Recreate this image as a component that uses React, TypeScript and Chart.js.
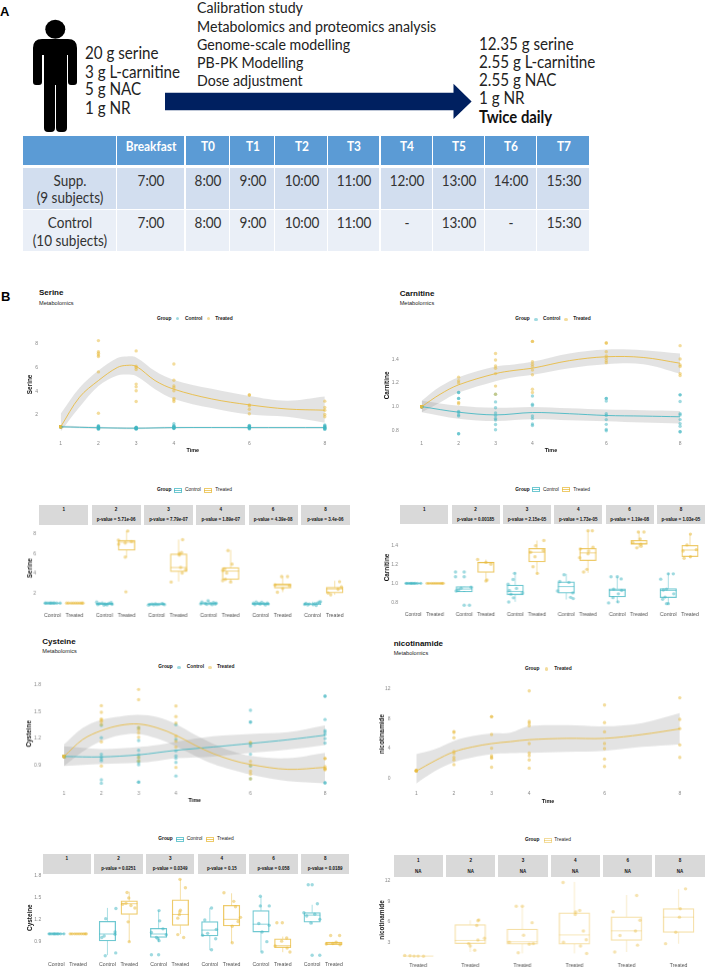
import React, { useEffect, useRef } from "react";
import { Chart, registerables } from "chart.js";

Chart.register(...registerables);

// ---------- Panel A content ----------
const startDose = ["20 g serine", "3 g L-carnitine", "5 g NAC", "1 g NR"];
const steps = ["Calibration study", "Metabolomics and proteomics analysis", "Genome-scale modelling", "PB-PK Modelling", "Dose adjustment"];
const finalDose = ["12.35 g serine", "2.55 g L-carnitine", "2.55 g NAC", "1 g NR"];
const tableHead = ["", "Breakfast", "T0", "T1", "T2", "T3", "T4", "T5", "T6", "T7"];
const suppRow = ["Supp.\n(9 subjects)", "7:00", "8:00", "9:00", "10:00", "11:00", "12:00", "13:00", "14:00", "15:30"];
const controlRow = ["Control\n(10 subjects)", "7:00", "8:00", "9:00", "10:00", "11:00", "-", "13:00", "-", "15:30"];

// ---------- Time points / tick labels ----------
const timeTicks = [1, 2, 3, 4, 6, 8];
const serineTicks = [2, 4, 6, 8];
const carnitineTicks = [0.8, 1.0, 1.2, 1.4];
const cysteineTicks = [0.9, 1.2, 1.5, 1.8];
const nicotSmoothTicks = [0, 4, 8, 12];
const nicotBoxTicks = [3, 6, 9, 12];
const serineP = ["", "p-value = 5.71e-06", "p-value = 7.79e-07", "p-value = 1.89e-07", "p-value = 4.39e-08", "p-value = 3.4e-06"];
const carnitineP = ["", "p-value = 0.00185", "p-value = 2.15e-05", "p-value = 1.73e-05", "p-value = 1.19e-08", "p-value = 1.03e-05"];
const cysteineP = ["", "p-value = 0.0251", "p-value = 0.0349", "p-value = 0.15", "p-value = 0.058", "p-value = 0.0189"];
const nicotP = ["NA", "NA", "NA", "NA", "NA", "NA"];

// ---------- Observed values per time point ----------
const ones10 = [1, 1, 1, 1, 1, 1, 1, 1, 1, 1];
const ones9 = [1, 1, 1, 1, 1, 1, 1, 1, 1];
const flatControlJit = [-0.33, -0.28, -0.2, -0.12, -0.08, -0.02, 0.05, 0.1, 0.2, 0.35];
const flatTreatedJit = [-0.36, -0.27, -0.15, -0.05, 0.05, 0.15, 0.25, 0.33, 0.38];

const serineTreated = [
  ones9,
  [8.27, 7.34, 7.2, 7.06, 6.93, 5.63, 2.14],
  [7.4, 6.1, 6.0, 5.83, 4.6, 4.37, 4.04, 3.13],
  [6.3, 4.92, 4.45, 4.3, 4.04, 3.4, 3.27, 3.13],
  [3.68, 3.68, 2.85, 2.75, 2.47, 2.1],
  [3.16, 2.63, 2.4, 2.03, 1.84],
];
const serineTreatedJit = [
  flatTreatedJit,
  [0.05, -0.37, 0.22, -0.06, -0.36, -0.06, -0.03],
  [0.18, 0.13, 0.03, 0.03, 0.09, 0.32, 0.16, -0.34],
  [-0.12, 0.06, -0.27, -0.36, -0.18, -0.24, -0.36, 0],
  [-0.05, 0.22, -0.35, 0.3, 0, -0.24],
  [0.22, 0.3, 0.15, -0.3, -0.18],
];
const serineControl = [
  ones10,
  [1.1, 1.05, 1.0, 0.98, 0.95, 0.9, 0.88, 0.85, 0.82, 0.8],
  [0.96, 0.94, 0.92, 0.9, 0.88, 0.87, 0.86, 0.85, 0.82, 0.8],
  [1.25, 1.1, 1.05, 1.0, 0.98, 0.95, 0.92, 0.9, 0.88, 0.85],
  [1.12, 1.08, 1.02, 1.0, 0.98, 0.95, 0.92, 0.9, 0.86, 0.82],
  [1.15, 1.1, 1.02, 0.98, 0.95, 0.92, 0.88, 0.85, 0.82, 0.78],
];
const serineControlJit = [
  flatControlJit,
  [-0.35, 0.3, -0.1, 0.2, -0.22, 0.05, 0.34, -0.3, 0.12, -0.02],
  [0.25, -0.05, 0.3, -0.2, 0.12, -0.3, 0.02, 0.36, -0.12, -0.36],
  [-0.02, -0.3, 0.22, 0.34, -0.15, 0.08, -0.35, 0.3, -0.08, 0.16],
  [-0.2, 0.05, 0.3, -0.32, -0.1, 0.15, 0.35, -0.02, -0.26, 0.22],
  [0.36, 0.3, 0.22, -0.3, 0.1, -0.15, -0.36, 0.02, -0.22, 0.16],
];

const carnitineTreated = [
  ones9,
  [1.25, 1.22, 1.2, 1.036, 1.025],
  [1.45, 1.395, 1.345, 1.326, 1.28, 1.174, 1.105],
  [1.553, 1.553, 1.38, 1.36, 1.34, 1.31, 1.27, 1.147, 1.12],
  [1.54, 1.54, 1.465, 1.43, 1.41, 1.39, 1.373],
  [1.517, 1.404, 1.354, 1.34, 1.28, 1.263],
];
const carnitineTreatedJit = [
  flatTreatedJit,
  [-0.38, 0, 0.23, 0.05, 0],
  [0.32, -0.06, 0.29, -0.29, -0.09, -0.18, 0.02],
  [0, 0.2, 0.23, -0.35, 0.03, 0, -0.38, -0.05, -0.2],
  [-0.03, 0.23, 0.05, -0.29, 0.08, 0.1, -0.1],
  [0.02, -0.14, 0.29, -0.32, 0.02, -0.27],
];
const carnitineControl = [
  ones10,
  [1.12, 1.12, 1.07, 1.07, 0.96, 0.95, 0.93, 0.92, 0.77, 0.77],
  [1.105, 1.04, 0.99, 0.947, 0.925, 0.9, 0.887, 0.848, 0.804],
  [1.09, 1.02, 1.01, 0.92, 0.9, 0.853, 0.84],
  [1.07, 1.07, 1.047, 0.94, 0.925, 0.89, 0.85, 0.806, 0.795],
  [1.1, 1.1, 1.044, 0.94, 0.93, 0.89, 0.856, 0.834, 0.787, 0.787],
];
const carnitineControlJit = [
  flatControlJit,
  [-0.4, 0, -0.4, 0, 0.32, -0.14, -0.26, -0.37, 0, 0.24],
  [-0.03, -0.1, -0.33, 0.06, -0.27, 0.33, -0.2, -0.08, -0.3],
  [-0.1, -0.3, 0.12, -0.4, 0.3, 0.2, 0.32],
  [-0.29, 0, 0.18, -0.17, 0.2, 0.05, -0.2, 0.03, -0.4],
  [0, 0.23, -0.35, -0.08, -0.23, 0.25, -0.15, -0.26, -0.08, 0],
];

const cysteineTreated = [
  ones9,
  [1.569, 1.495, 1.42, 1.407, 1.39, 1.356, 1.165, 0.893],
  [1.75, 1.635, 1.326, 1.3, 1.264, 1.216, 0.95, 0.99],
  [1.565, 1.447, 1.374, 1.227, 1.17, 1.105, 0.878],
  [1.153, 1.153, 0.944, 0.9, 0.834, 0.804, 0.75],
  [0.977, 0.977, 0.885, 0.867, 0.86, 0.85],
];
const cysteineTreatedJit = [
  flatTreatedJit,
  [-0.1, -0.02, -0.15, -0.3, 0.08, 0.26, -0.05, 0],
  [-0.02, 0.23, 0, -0.03, -0.05, -0.12, 0.15, -0.12],
  [-0.35, 0.1, 0.18, 0.41, 0.3, 0.03, 0.03],
  [-0.27, -0.02, 0.18, -0.05, -0.35, 0.2, 0.33],
  [0.26, -0.15, 0.1, -0.05, -0.35, 0.28],
];
const cysteineControl = [
  ones10,
  [1.348, 1.209, 1.025, 0.995, 0.97, 0.951, 0.738, 0.7],
  [1.32, 1.179, 1.069, 1.018, 0.988, 0.951, 0.933, 0.907, 0.713, 0.713],
  [1.356, 1.19, 1.062, 1.007, 0.98, 0.933, 0.782],
  [1.517, 1.385, 1.385, 1.142, 1.117, 1.025, 0.893, 0.75],
  [1.675, 1.675, 1.414, 1.29, 1.271, 1.245, 1.2, 1.15, 0.705, 0.705],
];
const cysteineControlJit = [
  flatControlJit,
  [0.39, -0.08, 0.35, 0.35, -0.15, -0.26, 0.38, -0.1],
  [0.02, 0.05, 0.2, -0.33, 0.35, -0.1, -0.03, 0.02, -0.33, 0],
  [0.08, -0.23, 0.3, -0.1, -0.33, 0.27, 0.08],
  [-0.03, -0.03, 0.38, -0.1, 0.38, 0.05, 0.27, 0.05],
  [-0.18, 0, 0.24, -0.38, 0.12, -0.25, 0.35, -0.06, 0, 0.35],
];

const nicotTreated = [
  [1.1, 1.05, 1.0, 1.0, 0.97],
  [6.3, 6.18, 5.47, 3.62, 3.35, 2.82, 2.47, 1.85],
  [8.3, 8.3, 5.9, 4.06, 3.04, 2.82, 2.73, 1.5],
  [11.78, 7.68, 7.45, 7.1, 4.68, 3.4, 3.04, 2.47, 1.37],
  [9.88, 7.5, 6.26, 4.68, 4.01, 2.6, 1.59],
  [10.85, 7.94, 6.7, 4.5, 2.82],
];
const nicotTreatedJit = [
  [-0.33, -0.2, -0.1, 0, 0.13],
  [0.21, 0.19, 0.16, 0.35, 0.19, -0.04, 0, 0.11],
  [-0.15, 0, 0.24, 0.03, -0.32, 0.27, 0.17, -0.1],
  [-0.28, 0.13, 0.03, 0.02, 0.22, 0.29, -0.27, 0.15, 0.3],
  [0.25, -0.33, 0.33, 0.22, -0.16, 0.27, -0.29],
  [0.17, 0.04, 0.02, -0.07, -0.32],
];

// ---------- Smooth fits (time, fit, upper, lower) ----------
const serineFitT = [1, 1.5, 2, 2.5, 2.75, 3, 3.5, 4, 5, 6, 7, 8];
const serineFit = [1.0, 3.5, 4.9, 6.0, 6.18, 6.1, 4.9, 4.17, 3.35, 2.85, 2.5, 2.4];
const serineFitHi = [2.1, 4.3, 5.75, 6.8, 6.93, 6.85, 5.7, 4.95, 4.2, 3.6, 3.2, 3.55];
const serineFitLo = [0.6, 2.66, 4.45, 5.33, 5.4, 5.28, 4.17, 3.35, 2.58, 2.03, 1.84, 1.34];
const serineCtlT = [1, 2, 3, 4, 6, 8];
const serineCtl = [1.0, 0.92, 0.88, 0.93, 0.93, 0.93];
const serineCtlHi = [1.1, 1.0, 0.96, 1.0, 1.0, 1.0];
const serineCtlLo = [0.9, 0.84, 0.8, 0.86, 0.86, 0.86];

const carnFitT = [1, 1.5, 2, 3, 3.5, 4, 5, 6, 7, 8];
const carnFit = [1.0, 1.105, 1.185, 1.28, 1.307, 1.326, 1.39, 1.423, 1.417, 1.368];
const carnFitHi = [1.05, 1.17, 1.25, 1.34, 1.357, 1.38, 1.45, 1.484, 1.478, 1.45];
const carnFitLo = [0.953, 1.036, 1.119, 1.216, 1.25, 1.27, 1.326, 1.36, 1.36, 1.28];
const carnCtlT = [1, 2, 3, 4, 5, 6, 7, 8];
const carnCtl = [1.0, 0.953, 0.93, 0.95, 0.94, 0.925, 0.92, 0.914];
const carnCtlHi = [1.05, 1.008, 0.99, 0.997, 0.986, 0.975, 0.97, 0.964];
const carnCtlLo = [0.953, 0.898, 0.878, 0.892, 0.884, 0.876, 0.865, 0.856];

const cysFitT = [1, 1.5, 2, 2.5, 3, 3.5, 4, 4.5, 5, 5.5, 6, 7, 8];
const cysFit = [1.0, 1.19, 1.29, 1.348, 1.363, 1.32, 1.238, 1.128, 1.032, 0.96, 0.91, 0.856, 0.878];
const cysFitHi = [1.135, 1.32, 1.41, 1.447, 1.466, 1.44, 1.363, 1.245, 1.142, 1.06, 1.007, 0.98, 1.04];
const cysFitLo = [0.893, 1.054, 1.172, 1.238, 1.253, 1.2, 1.113, 1.01, 0.915, 0.85, 0.797, 0.724, 0.7];
const cysCtlT = [1, 2, 3, 3.5, 4, 5, 6, 7, 8];
const cysCtl = [1.0, 0.995, 1.018, 1.043, 1.069, 1.106, 1.146, 1.187, 1.238];
const cysCtlHi = [1.113, 1.084, 1.106, 1.128, 1.165, 1.227, 1.253, 1.271, 1.348];
const cysCtlLo = [0.893, 0.915, 0.929, 0.951, 0.98, 0.999, 1.04, 1.076, 1.128];

const nicFitT = [1, 1.5, 2, 2.5, 3, 3.5, 4, 5, 6, 7, 8];
const nicFit = [0.97, 2.38, 3.57, 4.23, 4.68, 4.94, 5.2, 5.38, 5.38, 5.9, 6.66];
const nicFitHi = [3.26, 3.93, 5.03, 5.69, 6.04, 6.13, 7.01, 7.15, 7.01, 7.45, 8.78];
const nicFitLo = [-0.7, 0.97, 2.16, 2.82, 3.26, 3.4, 3.44, 3.57, 3.7, 4.23, 4.59];

// ---------- Box stats per facet: low whisker, q1, median, q3, high whisker ----------
const serineCtlBox = [[1, 1, 1, 1, 1], [0.8, 0.85, 0.92, 1.0, 1.1], [0.8, 0.85, 0.9, 0.95, 0.96], [0.85, 0.9, 0.95, 1.05, 1.25], [0.82, 0.85, 0.92, 1.0, 1.12], [0.78, 0.85, 0.9, 0.98, 1.15]];
const serineTrtBox = [[1, 1, 1, 1, 1], [5.6, 6.33, 7.15, 7.34, 8.26], [3.18, 4.16, 4.59, 5.97, 7.4], [3.15, 3.38, 4.23, 4.59, 6.36], [2.1, 2.52, 2.79, 2.92, 3.73], [1.84, 2.03, 2.43, 2.59, 3.25]];
const carnCtlBox = [[1, 1, 1, 1, 1], [0.92, 0.911, 0.94, 0.966, 0.97], [0.806, 0.88, 0.915, 0.983, 1.12], [0.83, 0.898, 0.966, 1.017, 1.1], [0.795, 0.857, 0.925, 0.942, 1.07], [0.78, 0.85, 0.925, 0.945, 1.11]];
const carnTrtBox = [[1, 1, 1, 1, 1], [1.034, 1.116, 1.22, 1.22, 1.25], [1.09, 1.225, 1.327, 1.368, 1.45], [1.11, 1.239, 1.32, 1.368, 1.555], [1.375, 1.409, 1.42, 1.453, 1.545], [1.266, 1.28, 1.35, 1.4, 1.52]];
const cysCtlBox = [[1, 1, 1, 1, 1], [0.707, 0.904, 0.998, 1.173, 1.357], [0.887, 0.95, 0.998, 1.075, 1.325], [0.775, 0.972, 1.052, 1.17, 1.357], [0.752, 1.025, 1.133, 1.32, 1.513], [1.13, 1.16, 1.258, 1.294, 1.4]];
const cysTrtBox = [[1, 1, 1, 1, 1], [0.887, 1.267, 1.415, 1.455, 1.58], [0.998, 1.115, 1.267, 1.469, 1.75], [0.873, 1.11, 1.2, 1.393, 1.558], [0.748, 0.81, 0.837, 0.931, 0.963], [0.85, 0.85, 0.873, 0.887, 0.887]];
const nicBox = [[1, 1, 1, 1, 1], [1.6, 2.81, 3.29, 5.62, 6.24], [1.4, 2.76, 3.1, 4.95, 8.3], [1.4, 2.76, 4.1, 7.33, 11.86], [1.6, 3.29, 4.7, 6.76, 9.95], [2.8, 4.48, 6.7, 7.95, 10.8]];

// ---------- Style ----------
const TEAL = "#3fb6c2";
const GOLD = "#e8b93a";
const TEAL_BOX = "rgba(63,182,194,0.75)";
const GOLD_BOX = "rgba(232,185,58,0.75)";
const TEAL_PT = "rgba(63,182,194,0.5)";
const GOLD_PT = "rgba(232,185,58,0.5)";
const RIBBON = "rgba(140,140,140,0.24)";
const BODY_FONT = "'Liberation Sans', Arial, sans-serif";
const SLIDE_FONT = "Lato, sans-serif";

type Anchor = [number, number, number, number];
const at = (a: Anchor, px: number) => a[0] + ((px - a[1]) * (a[2] - a[0])) / (a[3] - a[1]);

function baseScales(o: any) {
  const fixX = (s: any) => {
    s.height = o.axisBottom - o.b;
    s.paddingLeft = 0;
    s.paddingRight = 0;
  };
  const fixY = (s: any) => {
    s.width = o.l - o.canvasLeft;
    s.paddingTop = 0;
    s.paddingBottom = 0;
  };
  return {
    x: {
      type: "linear",
      offset: false,
      min: o.xMin,
      max: o.xMax,
      grid: { display: false, drawTicks: false },
      border: { display: false },
      afterBuildTicks: (s: any) => {
        s.ticks = o.xTicks.map((v: number) => ({ value: v }));
      },
      afterFit: fixX,
      ticks: {
        autoSkip: false,
        maxRotation: 0,
        padding: o.xTickPad,
        color: o.xTickColor,
        font: { size: o.xTickSize, family: BODY_FONT },
        callback: (_v: any, i: number) => o.xLabels[i],
      },
      title: o.xTitle
        ? { display: true, text: o.xTitle, padding: 0, color: "#111", font: { size: 5.4, weight: "bold", family: BODY_FONT } }
        : { display: false },
    },
    y: {
      type: "linear",
      min: at(o.yA, o.b),
      max: at(o.yA, o.t),
      grid: { display: false, drawTicks: false },
      border: { display: false },
      afterBuildTicks: (s: any) => {
        s.ticks = o.yTicks.map((v: number) => ({ value: v }));
      },
      afterFit: fixY,
      ticks: {
        autoSkip: false,
        padding: o.yTickPad,
        color: "#888",
        font: { size: 5, family: BODY_FONT },
        callback: (v: any) => (o.yFixed ? Number(v).toFixed(1) : String(v)),
      },
      title: { display: true, text: o.yTitle, padding: 0, color: "#111", font: { size: 6.4, weight: "bold", family: BODY_FONT } },
    },
  };
}

function pointsSmooth(values: number[][], color: string) {
  const data: any[] = [];
  values.forEach((vs, i) => vs.forEach((v) => data.push({ x: timeTicks[i], y: v })));
  return { type: "scatter", data, showLine: false, pointRadius: 1.7, pointBorderWidth: 0, pointBackgroundColor: color, clip: false, order: 3 };
}

function fitSets(t: number[], fit: number[], hi: number[], lo: number[], color: string) {
  const xy = (ys: number[]) => ys.map((y, i) => ({ x: t[i], y }));
  const common = { type: "line", pointRadius: 0, tension: 0.35 };
  return [
    { ...common, data: xy(hi), borderWidth: 0, borderColor: "transparent", backgroundColor: RIBBON, fill: "+1", order: 5 },
    { ...common, data: xy(lo), borderWidth: 0, borderColor: "transparent", fill: false, order: 5 },
    { ...common, data: xy(fit), borderColor: color, borderWidth: 0.85, fill: false, order: 1 },
  ];
}

function boxSets(boxes: number[][], values: number[][], jitter: number[][], pos: (i: number) => number, color: string, ptColor: string, px: number, halfUnit: number, medWidth: number) {
  const bars = boxes.map((b, i) => ({ x: pos(i), y: [b[1], b[3]] }));
  const whisk: any[] = [];
  const med: any[] = [];
  boxes.forEach((b, i) => {
    const c = pos(i);
    whisk.push({ x: c, y: b[0] }, { x: c, y: b[1] }, { x: c, y: NaN }, { x: c, y: b[3] }, { x: c, y: b[4] }, { x: c, y: NaN });
    med.push({ x: c - halfUnit, y: b[2] }, { x: c + halfUnit, y: b[2] }, { x: c + halfUnit, y: NaN });
  });
  const pts: any[] = [];
  values.forEach((vs, i) => vs.forEach((v, j) => pts.push({ x: pos(i) + (jitter[i][j] ?? 0), y: v })));
  return [
    { type: "bar", data: bars, grouped: false, barThickness: px, backgroundColor: "transparent", borderColor: color, borderWidth: 0.6, borderSkipped: false, order: 4 },
    { type: "line", data: whisk, borderColor: color, borderWidth: 0.6, pointRadius: 0, spanGaps: false, fill: false, order: 4 },
    { type: "line", data: med, borderColor: color, borderWidth: medWidth, pointRadius: 0, spanGaps: false, fill: false, order: 4 },
    { type: "scatter", data: pts, showLine: false, pointRadius: 1.7, pointBorderWidth: 0, pointBackgroundColor: ptColor, clip: false, order: 2 },
  ];
}

function ChartBox({ o, datasets }: { o: any; datasets: any[] }) {
  const ref = useRef<HTMLCanvasElement | null>(null);
  const width = o.r + 2 - o.canvasLeft;
  const height = o.axisBottom - (o.t - 2);
  useEffect(() => {
    const chart = new Chart(ref.current as HTMLCanvasElement, {
      type: "scatter",
      data: { datasets },
      options: {
        responsive: false,
        animation: false,
        devicePixelRatio: 1,
        layout: { padding: { top: 2, right: 2, left: 0, bottom: 0 } },
        plugins: { legend: { display: false }, tooltip: { enabled: false } },
        scales: baseScales(o),
      } as any,
    } as any);
    return () => chart.destroy();
  }, []);
  return (
    <canvas
      ref={ref}
      width={width}
      height={height}
      style={{ position: "absolute", left: o.canvasLeft, top: o.t - 2, width, height }}
    />
  );
}

function T({ x, y, children, size, bold, color, font, sx, center }: any) {
  return (
    <div
      style={{
        position: "absolute",
        left: x,
        top: y,
        whiteSpace: "nowrap",
        lineHeight: 1,
        fontSize: size,
        fontWeight: bold ? 700 : 400,
        color: color ?? "#111",
        fontFamily: font ?? BODY_FONT,
        transform: `translate(${center ? "-50%" : "0"},-50%)${sx ? ` scaleX(${sx})` : ""}`,
        transformOrigin: center ? "center" : "left center",
      }}
    >
      {children}
    </div>
  );
}

function Dot({ x, y, c }: any) {
  return <div style={{ position: "absolute", left: x - 1.6, top: y - 1.6, width: 3.2, height: 3.2, borderRadius: "50%", background: c }} />;
}

function BoxKey({ x, y, c, w }: any) {
  return (
    <>
      <div style={{ position: "absolute", left: x, top: y - 2.5, width: w, height: 5, boxSizing: "border-box", border: `0.7px solid ${c}` }} />
      <div style={{ position: "absolute", left: x, top: y - 0.3, width: w, height: 0.7, background: c }} />
    </>
  );
}

function Strips({ l, w, step, top, h, labels, y1, y2 }: any) {
  const heads = timeTicks;
  return (
    <>
      {heads.map((t: number, i: number) => (
        <React.Fragment key={t}>
          <div style={{ position: "absolute", left: l + i * step, top, width: w, height: h, background: "#d9d9d9" }} />
          <T x={l + i * step + w / 2} y={y1} size={4.6} bold center>{t}</T>
          {labels[i] ? <T x={l + i * step + w / 2} y={y2} size={4.5} bold center>{labels[i]}</T> : null}
        </React.Fragment>
      ))}
    </>
  );
}

function Heading({ x, y1, y2, name }: any) {
  return (
    <>
      <T x={x} y={y1} size={8} bold>{name}</T>
      <T x={x} y={y2} size={5.6} color="#222">Metabolomics</T>
    </>
  );
}

function smoothOpts(o: any) {
  const xA: Anchor = [1, o.x1, 8, o.x8];
  return {
    ...o,
    xMin: at(xA, o.l),
    xMax: at(xA, o.r),
    xTicks: timeTicks,
    xLabels: timeTicks.map(String),
    xTitle: "Time",
    xTickColor: "#888",
    xTickSize: 5,
    xTickPad: o.labelY - o.b - 2.5,
    axisBottom: o.timeY + 3.2,
    canvasLeft: o.titleX - 3.8,
  };
}

const GAP2 = 0.15;
const facetPos2 = (k: number) => (i: number) => i * (2.2 + GAP2) + 0.6 + k;
const MAX2 = 6 * 2.2 + 5 * GAP2;

function boxOpts2(o: any) {
  const ticks: number[] = [];
  const labels: string[] = [];
  timeTicks.forEach((_t, i) => {
    ticks.push(facetPos2(0)(i), facetPos2(1)(i));
    labels.push("Control", "Treated");
  });
  return {
    ...o,
    xMin: 0,
    xMax: MAX2,
    xTicks: ticks,
    xLabels: labels,
    xTickColor: "#555",
    xTickSize: 5.2,
    xTickPad: o.labelY - o.b - 2.6,
    axisBottom: o.labelY + 4,
    canvasLeft: o.titleX - 3.8,
  };
}

function TwoGroupBox({ o, ctlBox, trtBox, ctl, trt, ctlJ, trtJ }: any) {
  const opt = boxOpts2(o);
  const unitPx = (o.r - o.l) / MAX2;
  const ds = [
    ...boxSets(ctlBox, ctl, ctlJ, facetPos2(0), TEAL_BOX, TEAL_PT, 0.75 * unitPx, 0.375, 0.8),
    ...boxSets(trtBox, trt, trtJ, facetPos2(1), GOLD_BOX, GOLD_PT, 0.75 * unitPx, 0.375, 0.8),
  ];
  return <ChartBox o={opt} datasets={ds} />;
}

export default function App() {
  const colX = [22.7, 116.6, 185.5, 230.4, 275.3, 327.9, 380.5, 432.6, 485.3, 537.4, 589.6];
  const rowBands: [number, number, string, string[], number[]][] = [
    [168.3, 208.7, "#d2deef", suppRow, [180, 197.3]],
    [209.7, 251, "#eaeff7", controlRow, [222.3, 240]],
  ];
  // Nicotinamide single-group facets
  const NGAP = 0.08;
  const nicPos = (i: number) => i * (1.2 + NGAP) + 0.6;
  const nicMax = 6 * 1.2 + 5 * NGAP;
  const nicOpt = {
    l: 393.7, r: 704.7, t: 878, b: 960, yA: [12, 879, 3, 942] as Anchor,
    xMin: 0, xMax: nicMax, xTicks: timeTicks.map((_t, i) => nicPos(i)), xLabels: timeTicks.map(() => "Treated"),
    xTickColor: "#555", xTickSize: 5.2, xTickPad: 2.1, axisBottom: 969, canvasLeft: 378,
    yTicks: nicotBoxTicks, yTitle: "nicotinamide", yTickPad: 3.5,
  };
  const nicUnit = (nicOpt.r - nicOpt.l) / nicMax;

  return (
    <div style={{ position: "absolute", left: 0, top: 0, width: 709, height: 971, background: "#fff", overflow: "hidden", filter: "blur(0.35px)" }}>
      {/* Panel A */}
      <T x={0} y={11} size={13} bold color="#000">A</T>
      <svg width={120} height={140} style={{ position: "absolute", left: 0, top: 0 }}>
        <ellipse cx={55.3} cy={29.3} rx={10} ry={9.5} fill="#000" />
        <path fill="#000" d="M33 48 Q33 39 42 39 H68 Q77 39 77 48 V82 Q77 85 74 85 H71 Q68 85 68 82 V55 H67 V128 Q67 132 63 132 H60 Q56 132 56 128 V85 H55 V128 Q55 132 51 132 H48 Q44 132 44 128 V55 H42 V82 Q42 85 39 85 H36 Q33 85 33 82 Z" />
      </svg>
      {startDose.map((s, i) => (
        <T key={s} x={85} y={[53.3, 71.7, 89.3, 107.7][i]} size={16.5} font={SLIDE_FONT} color="#222" sx={0.92}>{s}</T>
      ))}
      {steps.map((s, i) => (
        <T key={s} x={197} y={[8.3, 26.7, 44.7, 62.7, 80.7][i]} size={15.5} font={SLIDE_FONT} color="#222" sx={0.915}>{s}</T>
      ))}
      <svg width={709} height={140} style={{ position: "absolute", left: 0, top: 0 }}>
        <polygon fill="#002060" points="165,92.7 453.5,92.7 453.5,83.7 471.6,101.5 453.5,119 453.5,110.3 165,110.3" />
      </svg>
      {finalDose.map((s, i) => (
        <T key={s} x={478.5} y={[44, 62, 80, 98.3][i]} size={16.5} font={SLIDE_FONT} color="#222" sx={0.92}>{s}</T>
      ))}
      <T x={478.5} y={116.7} size={16.5} bold font={SLIDE_FONT} color="#111" sx={0.9}>Twice daily</T>

      {tableHead.map((h, i) => (
        <React.Fragment key={i}>
          <div style={{ position: "absolute", left: colX[i], top: 136, width: colX[i + 1] - colX[i] - 1, height: 29, background: "#5b9bd5" }} />
          {h ? <T x={(colX[i] + colX[i + 1]) / 2} y={147.3} size={13.5} bold font={SLIDE_FONT} color="#fff" center sx={0.88}>{h}</T> : null}
        </React.Fragment>
      ))}
      {rowBands.map(([top, bottom, bg, cells, ys], r) =>
        cells.map((c, i) => (
          <React.Fragment key={`${r}-${i}`}>
            <div style={{ position: "absolute", left: colX[i], top, width: colX[i + 1] - colX[i] - 1, height: bottom - top, background: bg }} />
            {c.split("\n").map((line, k) => (
              <T key={k} x={(colX[i] + colX[i + 1]) / 2} y={ys[k]} size={15} font={SLIDE_FONT} color="#333" center sx={0.9}>{line}</T>
            ))}
          </React.Fragment>
        ))
      )}

      <T x={1} y={296} size={13} bold color="#000">B</T>

      {/* Serine */}
      <Heading x={39} y1={293} y2={303.7} name="Serine" />
      <T x={157} y={318.7} size={4.8} bold>Group</T>
      <Dot x={177.7} y={318.7} c={TEAL_PT} />
      <T x={185} y={318.7} size={4.9} bold color="#222">Control</T>
      <Dot x={208.7} y={318.7} c={GOLD_PT} />
      <T x={215.3} y={318.7} size={4.9} bold color="#222">Treated</T>
      <ChartBox
        o={smoothOpts({ l: 47.7, r: 340.3, t: 333, b: 434, x1: 61, x8: 327, yA: [8, 342, 2, 414.7], yTicks: serineTicks, yTitle: "Serine", yFixed: false, titleX: 30, yTickPad: 9.5, labelY: 443, timeY: 451 })}
        datasets={[
          pointsSmooth(serineTreated, GOLD_PT),
          pointsSmooth(serineControl, TEAL_PT),
          ...fitSets(serineFitT, serineFit, serineFitHi, serineFitLo, GOLD),
          ...fitSets(serineCtlT, serineCtl, serineCtlHi, serineCtlLo, TEAL),
        ]}
      />
      <T x={157} y={490} size={4.8} bold>Group</T>
      <BoxKey x={174.3} y={490} c={TEAL_BOX} w={7.4} />
      <T x={185} y={490} size={4.9} color="#222">Control</T>
      <BoxKey x={204} y={490} c={GOLD_BOX} w={8} />
      <T x={215.3} y={490} size={4.9} color="#222">Treated</T>
      <Strips l={39.3} w={49} step={52.33} top={505} h={19.7} labels={serineP} y1={510.3} y2={520} />
      <TwoGroupBox
        o={{ l: 39.3, r: 349.7, t: 527, b: 607, yA: [8, 531.7, 2, 592.7], yTicks: serineTicks, yTitle: "Serine", titleX: 30, yTickPad: 3, labelY: 614.7 }}
        ctlBox={serineCtlBox} trtBox={serineTrtBox} ctl={serineControl} trt={serineTreated} ctlJ={serineControlJit} trtJ={serineTreatedJit}
      />

      {/* Carnitine */}
      <Heading x={399.7} y1={294} y2={304} name="Carnitine" />
      <T x={515.3} y={319.3} size={4.8} bold>Group</T>
      <Dot x={536} y={319.3} c={TEAL_PT} />
      <T x={543} y={319.3} size={4.9} bold color="#222">Control</T>
      <Dot x={566} y={319.3} c={GOLD_PT} />
      <T x={573.3} y={319.3} size={4.9} bold color="#222">Treated</T>
      <ChartBox
        o={smoothOpts({ l: 409, r: 695.3, t: 333, b: 436, x1: 422, x8: 682.3, yA: [1.4, 358, 0.8, 430.3], yTicks: carnitineTicks, yTitle: "Carnitine", yFixed: true, titleX: 387, yTickPad: 10, labelY: 443, timeY: 451 })}
        datasets={[
          pointsSmooth(carnitineTreated, GOLD_PT),
          pointsSmooth(carnitineControl, TEAL_PT),
          ...fitSets(carnFitT, carnFit, carnFitHi, carnFitLo, GOLD),
          ...fitSets(carnCtlT, carnCtl, carnCtlHi, carnCtlLo, TEAL),
        ]}
      />
      <T x={515.3} y={489.7} size={4.8} bold>Group</T>
      <BoxKey x={532} y={489.7} c={TEAL_BOX} w={8} />
      <T x={543} y={489.7} size={4.9} color="#222">Control</T>
      <BoxKey x={562.3} y={489.7} c={GOLD_BOX} w={8} />
      <T x={573.3} y={489.7} size={4.9} color="#222">Treated</T>
      <Strips l={400.3} w={48} step={51.33} top={505} h={19.3} labels={carnitineP} y1={510} y2={520} />
      <TwoGroupBox
        o={{ l: 400.3, r: 705, t: 526, b: 607, yA: [1.4, 543.7, 0.8, 602.3], yTicks: carnitineTicks, yTitle: "Carnitine", yFixed: true, titleX: 387, yTickPad: 2, labelY: 614 }}
        ctlBox={carnCtlBox} trtBox={carnTrtBox} ctl={carnitineControl} trt={carnitineTreated} ctlJ={carnitineControlJit} trtJ={carnitineTreatedJit}
      />

      {/* Cysteine */}
      <Heading x={42.3} y1={641.7} y2={651.7} name="Cysteine" />
      <T x={158.3} y={667.3} size={4.8} bold>Group</T>
      <Dot x={179} y={667.3} c={TEAL_PT} />
      <T x={186.7} y={667.3} size={4.9} bold color="#222">Control</T>
      <Dot x={210} y={667.3} c={GOLD_PT} />
      <T x={217} y={667.3} size={4.9} bold color="#222">Treated</T>
      <ChartBox
        o={smoothOpts({ l: 51.2, r: 340.1, t: 680, b: 785, x1: 64.3, x8: 327, yA: [1.8, 683, 0.9, 764.7], yTicks: cysteineTicks, yTitle: "Cysteine", yFixed: true, titleX: 29, yTickPad: 10, labelY: 792.3, timeY: 800.3 })}
        datasets={[
          pointsSmooth(cysteineTreated, GOLD_PT),
          pointsSmooth(cysteineControl, TEAL_PT),
          ...fitSets(cysFitT, cysFit, cysFitHi, cysFitLo, GOLD),
          ...fitSets(cysCtlT, cysCtl, cysCtlHi, cysCtlLo, TEAL),
        ]}
      />
      <T x={158.3} y={839} size={4.8} bold>Group</T>
      <BoxKey x={175.7} y={839} c={TEAL_BOX} w={8} />
      <T x={186.7} y={839} size={4.9} color="#222">Control</T>
      <BoxKey x={206.3} y={839} c={GOLD_BOX} w={8} />
      <T x={217} y={839} size={4.9} color="#222">Treated</T>
      <Strips l={42.7} w={48.3} step={51.67} top={854} h={19.7} labels={cysteineP} y1={859} y2={869} />
      <TwoGroupBox
        o={{ l: 42.7, r: 349.3, t: 874, b: 959.3, yA: [1.8, 873.7, 0.9, 940.7], yTicks: cysteineTicks, yTitle: "Cysteine", yFixed: true, titleX: 29.3, yTickPad: 2, labelY: 964 }}
        ctlBox={cysCtlBox} trtBox={cysTrtBox} ctl={cysteineControl} trt={cysteineTreated} ctlJ={cysteineControlJit} trtJ={cysteineTreatedJit}
      />

      {/* Nicotinamide */}
      <Heading x={393.7} y1={644} y2={654} name="nicotinamide" />
      <T x={525} y={669} size={4.8} bold>Group</T>
      <Dot x={546.7} y={669} c={GOLD_PT} />
      <T x={554.3} y={669} size={4.9} bold color="#222">Treated</T>
      <ChartBox
        o={smoothOpts({ l: 403, r: 695.3, t: 680, b: 786, x1: 416.3, x8: 682, yA: [12, 687.3, 0, 778], yTicks: nicotSmoothTicks, yTitle: "nicotinamide", yFixed: false, titleX: 381.7, yTickPad: 12.5, labelY: 793, timeY: 801.5 })}
        datasets={[
          pointsSmooth(nicotTreated, GOLD_PT),
          ...fitSets(nicFitT, nicFit, nicFitHi, nicFitLo, GOLD),
        ]}
      />
      <T x={525} y={840.3} size={4.8} bold>Group</T>
      <BoxKey x={543.7} y={840.3} c="rgba(232,185,58,0.5)" w={8} />
      <T x={554.3} y={840.3} size={4.9} color="#222">Treated</T>
      <Strips l={393.7} w={49.3} step={52.33} top={855.3} h={21.7} labels={nicotP} y1={861} y2={871.7} />
      <ChartBox
        o={nicOpt}
        datasets={boxSets(nicBox, nicotTreated, nicotTreatedJit, nicPos, "rgba(232,185,58,0.45)", "rgba(232,185,58,0.4)", 0.75 * nicUnit, 0.375, 0.8)}
      />
    </div>
  );
}
